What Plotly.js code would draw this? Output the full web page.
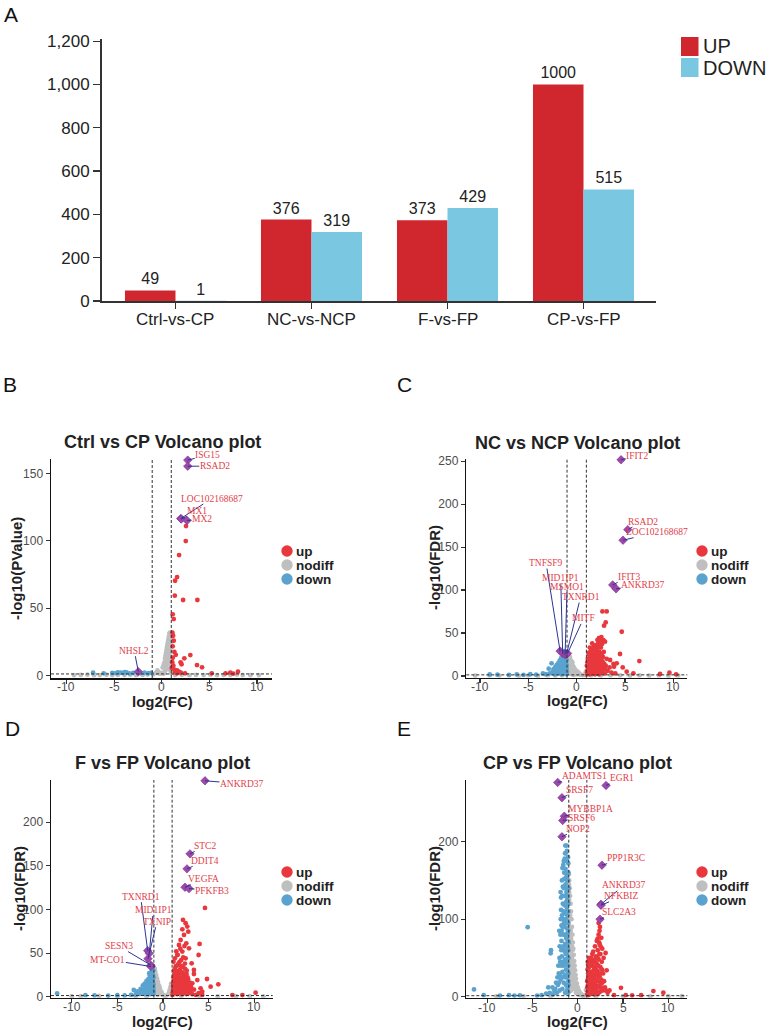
<!DOCTYPE html>
<html><head><meta charset="utf-8">
<script src="https://cdn.plot.ly/plotly-3.0.1.min.js"></script>
<style>html,body{margin:0;padding:0;background:#fff}#chart{width:767px;height:1032px}</style>
</head><body><div id="chart"></div>
<script>
// ================= DATA =================
const barCategories = ['Ctrl-vs-CP', 'NC-vs-NCP', 'F-vs-FP', 'CP-vs-FP'];
const barUp = [49, 376, 373, 1000];
const barDown = [1, 319, 429, 515];
const barSeriesNames = ['UP', 'DOWN'];
const barYTicks = [0, 200, 400, 600, 800, 1000, 1200];

const volcanoXTicks = [-10, -5, 0, 5, 10];
const volcanoGroups = ['up', 'nodiff', 'down'];
const fcThreshold = 1;        // |log2FC| cut-off
const pThreshold = 0.05;      // significance cut-off

// ---- Panel B : Ctrl vs CP ----
const B_title = 'Ctrl vs CP Volcano plot';
const B_yTitle = '-log10(PValue)';
const B_yTicks = [0, 50, 100, 150];
const B_up = [[2.55,110.9],[2.52,99.8],[1.82,89.4],[1.61,73.1],[1.40,70.4],[1.37,59.3],[2.24,56.1],[3.74,56.1],[1.15,45.5],[1.26,42],[1.12,31.9],[1.19,29.6],[1.26,25.9],[1.15,21.8],[1.33,17.6],[3.0,15.3],[1.47,15.5],[1.15,13.3],[2.37,12.9],[1.98,9.9],[2.08,8.5],[3.7,7.9],[4.23,6.2],[1.22,7.4],[1.33,4.4],[1.61,4.0],[1.05,5.8],[5.25,1.8],[7.2,2.3],[8.0,3],[6.7,1.8],[2.45,1.8],[1.6,1.8],[1.8,3],[1.1,10],[1.4,2.5],[2.0,2.2],[7.5,1.5]];
const B_nodiff = [[0.05,2],[0.1,6],[0.2,8],[0.3,10],[0.35,13],[0.4,15],[0.45,17],[0.5,19],[0.55,21],[0.6,23],[0.65,25],[0.7,27],[0.75,29],[0.8,31],[0.85,32],[0.9,30],[0.95,27],[0.92,24],[0.88,20],[0.8,16],[0.7,12],[0.6,9],[0.5,6],[0.4,4],[0.3,2],[0.2,1.5],[0.6,15],[0.7,20],[0.8,24],[0.9,14],[0.95,8],[0.97,18],[0.5,11],[0.45,7],[0.75,5],[0.85,10],[0.65,17],[0.55,13],[0.9,4],[0.98,2],[-0.45,4],[-0.3,2.5],[-0.6,2],[-0.9,1],[-0.2,1.5],
  [-9.2,0.4],[-8.5,0.6],[-7.8,0.8],[-7.1,0.4],[-6.5,0.5],[-5.8,0.7],[-5.2,0.4],[-4.6,0.6],[-3.9,0.5],[-3.3,0.8],[-2.7,0.4],[-2.0,0.6],[-1.5,0.9],[1.4,0.5],[2.1,0.7],[2.9,0.4],[3.6,0.6],[4.4,0.5],[5.1,0.8],[5.8,0.4],[6.5,0.6],[7.2,0.5],[7.9,0.9],[8.5,0.5],[9.3,0.4],[10.2,0.5]];
const B_down = [[-7.2,2.2],[-6.1,1.8],[-5.2,2.0],[-4.6,2.5],[-4.3,2.2],[-4.0,1.9],[-3.7,2.4],[-3.4,1.8],[-3.0,2.1],[-2.2,1.9],[-1.8,2.3],[-1.4,1.9],[-1.1,2.1],[-4.8,1.9],[-3.9,2.6]];
const B_genes = ['ISG15', 'RSAD2', 'LOC102168687', 'MX1', 'MX2', 'NHSL2'];
const B_geneX = [2.73, 2.73, 2.0, 2.05, 2.65, -2.46];
const B_geneY = [159.8, 155.3, 116.5, 116.1, 115.1, 3.0];

// ---- Panel C : NC vs NCP ----
const C_title = 'NC vs NCP Volcano plot';
const C_yTitle = '-log10(FDR)';
const C_yTicks = [0, 50, 100, 150, 200, 250];
const C_up = [[2.66,75.1],[3.1,75.1],[3.0,62.3],[2.83,58.5],[4.66,51.5],[6.48,17.4],[2.55,45.3],[2.34,43.7],[2.76,41.8],[2.93,39.9],[2.24,39.9],[1.9,34.1],[2.07,31],[4.48,25.6],[3.45,18.6],[4.14,14.7],[4.76,10],[3.86,10.8],[8.62,2.3],[9.59,3.9],[10.28,1.9],[5.17,5],[5.86,3.1],
  [1.1,2],[1.1,6],[1.15,10],[1.2,4],[1.25,14],[1.3,8],[1.3,18],[1.35,2],[1.4,12],[1.4,22],[1.45,5],[1.5,16],[1.5,26],[1.55,9],[1.6,3],[1.6,20],[1.65,30],[1.7,13],[1.7,24],[1.75,6],[1.8,17],[1.8,33],[1.85,10],[1.9,27],[1.9,2],[1.95,21],[2.0,14],[2.0,36],[2.05,7],[2.1,30],[2.1,18],[2.15,4],[2.2,24],[2.2,11],[2.25,38],[2.3,16],[2.3,2],[2.35,28],[2.4,8],[2.45,20],[2.5,13],[2.5,33],[2.6,5],[2.6,24],[2.7,16],[2.75,9],[2.8,28],[2.9,3],[3.0,12],[3.1,20],[3.2,6],[3.4,10],[3.6,4],[3.8,14],[4.0,3],[1.2,27],[1.35,33],[1.6,38],[2.3,44],[2.45,41],[2.6,37],[1.05,12],[1.15,20],[1.45,29],[1.75,35],[2.15,42],
  [1.08,4],[1.12,16],[1.18,8],[1.22,20],[1.28,12],[1.32,24],[1.38,6],[1.42,16],[1.48,10],[1.52,30],[1.58,14],[1.62,24],[1.68,4],[1.72,18],[1.78,28],[1.82,8],[1.88,14],[1.92,32],[1.98,10],[2.02,24],[2.08,16],[2.12,6],[2.18,28],[2.22,18],[2.28,10],[2.32,34],[2.38,22],[2.42,14],[2.48,4],[2.52,26],[2.58,18],[2.65,10],[2.72,22],[2.85,14],[2.95,8]];
const C_nodiff = [[-0.95,22],[-0.9,18],[-0.85,24],[-0.8,20],[-0.75,15],[-0.7,22],[-0.65,11],[-0.6,18],[-0.55,14],[-0.5,9],[-0.45,16],[-0.4,12],[-0.35,6],[-0.3,10],[-0.2,8],[-0.1,5],[0,6],[0.1,3],[0.2,4],[0.3,2],[0.4,1.5],[0.6,1],[0.9,2],[0.95,5],[-0.9,10],[-0.8,6],[-0.7,3],[-0.5,2],[-0.3,1],[0.8,1],[-0.95,14],[-0.6,7],[-0.25,4],
  [-0.97,18],[-0.92,12],[-0.87,20],[-0.82,14],[-0.77,19],[-0.72,9],[-0.67,16],[-0.62,5],[-0.57,10],[-0.52,13],[-0.42,8],[-0.32,4],[-0.15,3],[0.05,2],[0.85,1.5],[0.97,3],
  [-10.5,0.4],[-9,0.6],[-8,0.5],[-7,0.8],[-6,0.4],[-5,0.6],[-4,0.4],[-3,0.7],[-2.2,0.5],[-1.5,0.8],[1.5,0.5],[2.5,0.5],[3.5,0.7],[4.5,0.6],[5.5,0.4],[6.5,0.7],[7.5,0.5],[8.5,0.6],[9.5,0.4],[10.5,0.5]];
const C_down = [[-1.05,2],[-1.05,8],[-1.1,14],[-1.1,20],[-1.15,5],[-1.2,11],[-1.2,17],[-1.25,23],[-1.3,3],[-1.3,8],[-1.35,14],[-1.4,19],[-1.45,5],[-1.5,10],[-1.55,16],[-1.6,2],[-1.65,7],[-1.7,12],[-1.8,4],[-1.85,9],[-1.9,15],[-2.0,3],[-2.1,7],[-2.2,11],[-2.3,2],[-2.5,5],[-2.6,14.7],[-2.8,3],[-2.9,8.5],[-3.2,2],[-3.5,3],[-4.2,1.5],[-4.8,2],[-5.5,1.2],[-6.2,1.8],[-7,1.2],[-8.2,1.5],[-9,1.8],[-1.15,26],[-1.35,24],[-1.6,21],[-1.75,18],[-2.05,13],[-1.25,29],
  [-1.02,5],[-1.03,12],[-1.04,18],[-1.08,24],[-1.12,10],[-1.18,3],[-1.22,14],[-1.28,20],[-1.32,6],[-1.38,11],[-1.42,3],[-1.48,14],[-1.52,8],[-1.58,4],[-1.62,11],[-1.72,6],[-1.95,6],[-2.15,4],[-2.4,8]];
const C_genes = ['IFIT2', 'RSAD2', 'LOC102168687', 'IFIT3', 'ANKRD37', 'TNFSF9', 'MID1IP1', 'MSMO1', 'TXNRD1', 'MITF'];
const C_geneX = [4.59, 5.28, 4.79, 3.72, 4.07, -1.72, -1.45, -1.2, -1.05, -0.95];
const C_geneY = [251.6, 170.3, 158.0, 106.0, 101.4, 29.0, 26.3, 24.8, 25.5, 26.3];

// ---- Panel D : F vs FP ----
const D_title = 'F vs FP Volcano plot';
const D_yTitle = '-log10(FDR)';
const D_yTicks = [0, 50, 100, 150, 200];
const D_up = [[4.6,101.8],[4.01,60.5],[3.9,47.8],[3.39,30.6],[4.82,20.3],[6.06,14.2],[5.22,11.5],[10.15,4.6],[7.6,1.9],[8.7,1.9],[4.3,5.7],
  [2.19,88],[2.48,84.2],[2.66,80.4],[2.12,77.3],[2.77,74.6],[2.3,70.8],[1.93,65],[2.55,61.2],[1.75,59.3],[2.85,55.5],[2.12,51.7],[1.57,47.8],[2.48,44],[3.14,38.3],[3.39,26],[3.76,19.1],[3.21,15.3],[4.12,9.6],
  [1.05,2],[1.1,8],[1.1,15],[1.15,22],[1.2,4],[1.2,30],[1.25,11],[1.3,18],[1.35,26],[1.4,6],[1.4,35],[1.45,13],[1.5,21],[1.55,3],[1.55,29],[1.6,9],[1.65,16],[1.7,38],[1.7,24],[1.75,5],[1.8,12],[1.85,31],[1.9,19],[1.95,8],[2.0,27],[2.0,42],[2.05,3],[2.1,14],[2.15,22],[2.2,34],[2.25,9],[2.3,17],[2.35,5],[2.4,26],[2.45,12],[2.5,20],[2.55,3],[2.6,8],[2.7,15],[2.8,4],[2.9,10],[3.0,6],[3.2,3],[3.4,8],[3.6,2],[3.9,4],[4.3,2],[1.3,44],[1.6,48],[1.9,55],[2.4,38],[2.6,30],[1.15,40],[1.45,52],[2.7,22],[3.0,13],[2.35,58],
  [1.08,5],[1.12,12],[1.18,18],[1.22,25],[1.28,8],[1.32,32],[1.38,15],[1.42,22],[1.48,4],[1.52,28],[1.58,11],[1.62,36],[1.68,18],[1.72,7],[1.78,25],[1.82,40],[1.88,14],[1.92,4],[1.98,20],[2.02,35],[2.08,10],[2.12,28],[2.18,16],[2.22,45],[2.28,6],[2.32,24],[2.38,14],[2.42,32],[2.48,8],[2.52,18],[2.58,26],[2.65,12],[2.75,20],[2.85,8],[2.95,16],[3.1,10]];
const D_nodiff = [[-0.98,33],[-0.95,28],[-0.9,32],[-0.9,24],[-0.85,29],[-0.8,20],[-0.75,25],[-0.7,16],[-0.65,21],[-0.6,12],[-0.55,17],[-0.5,9],[-0.45,13],[-0.4,6],[-0.35,10],[-0.3,4],[-0.2,6],[-0.1,3],[0,2],[0.1,1.5],[0.3,1],[0.6,3],[0.7,6],[0.8,9],[0.85,12],[0.9,15],[0.95,10],[0.9,5],[0.8,3],[-0.95,15],[-0.85,8],[-0.75,4],[-0.6,2],
  [-0.97,20],[-0.93,28],[-0.88,18],[-0.82,24],[-0.78,14],[-0.72,19],[-0.68,10],[-0.62,15],[-0.58,7],[-0.52,12],[-0.48,5],[-0.42,9],[-0.32,7],[-0.25,3],[-0.15,4],[0.65,4],[0.75,8],[0.88,11],[0.92,8],[0.97,4],
  [-10,0.5],[-9,0.5],[-7,0.8],[-5,0.4],[-3,0.6],[-1.8,0.7],[2,0.5],[4,0.7],[6,0.4],[8,0.6],[9.5,0.5],[11,0.4]];
const D_down = [[-1.05,3],[-1.05,10],[-1.1,17],[-1.1,25],[-1.15,32],[-1.2,6],[-1.2,14],[-1.25,21],[-1.3,28],[-1.35,3],[-1.35,10],[-1.4,17],[-1.45,24],[-1.5,7],[-1.55,13],[-1.6,20],[-1.65,3],[-1.7,9],[-1.75,15],[-1.8,5],[-1.9,11],[-2.0,3],[-2.1,8],[-2.2,13],[-2.3,4],[-2.45,9],[-2.6,3],[-2.8,6],[-3.0,2.5],[-3.2,7.7],[-3.5,2],[-4.2,1.5],[-5,1.8],[-6,1.2],[-7.5,1.5],[-8.5,1.8],[-11.6,3.8],[-1.15,30],[-1.5,27],[-1.3,34],[-1.8,18],[-2.0,15],[-1.1,35],
  [-1.02,6],[-1.03,14],[-1.04,22],[-1.06,30],[-1.12,8],[-1.14,20],[-1.18,26],[-1.22,10],[-1.26,16],[-1.32,22],[-1.38,6],[-1.42,12],[-1.48,18],[-1.52,3],[-1.58,9],[-1.62,15],[-1.68,6],[-1.72,12],[-1.85,7],[-1.95,14],[-2.15,5],[-2.35,8],[-2.6,5],[-2.9,4]];
const D_genes = ['ANKRD37', 'STC2', 'DDIT4', 'VEGFA', 'PFKFB3', 'TXNRD1', 'MID1IP1', 'TXNIP', 'SESN3', 'MT-CO1'];
const D_geneX = [4.6, 2.96, 2.63, 2.41, 2.85, -1.68, -1.5, -1.64, -1.33, -1.33];
const D_geneY = [247.6, 163.8, 146.6, 125.5, 124.0, 52.8, 49.7, 43.6, 36.2, 34.6];

// ---- Panel E : CP vs FP ----
const E_title = 'CP vs FP Volcano plot';
const E_yTitle = '-log10(FDR)';
const E_yTicks = [0, 100, 200];
const E_up = [[1.05,3],[1.05,12],[1.1,22],[1.1,7],[1.15,30],[1.2,16],[1.2,2],[1.25,38],[1.3,9],[1.3,25],[1.35,45],[1.4,4],[1.4,18],[1.45,32],[1.5,12],[1.5,50],[1.55,26],[1.6,6],[1.6,40],[1.65,19],[1.7,58],[1.7,33],[1.75,10],[1.8,47],[1.8,24],[1.85,3],[1.9,38],[1.9,65],[1.95,15],[2.0,52],[2.0,28],[2.05,8],[2.1,72],[2.1,42],[2.15,20],[2.2,60],[2.2,33],[2.25,4],[2.3,80],[2.3,48],[2.35,13],[2.4,68],[2.4,26],[2.45,90],[2.5,55],[2.5,38],[2.55,100],[2.55,9],[2.6,76],[2.65,45],[2.7,62],[2.7,18],[2.8,30],[2.85,50],[3.0,12],[3.07,56.4],[3.19,34],[3.3,5],[3.5,8],[4.0,2],[4.77,11.5],[5.3,2],[6,1.8],[7,2],[8.35,7.3],[9.45,5.1],[2.3,95],[2.4,85],[1.15,42],[1.6,55],[2.0,35],[2.6,22],[1.3,15],[1.85,12],
  [1.05,20],[1.08,35],[1.1,45],[1.12,15],[1.18,25],[1.22,50],[1.28,5],[1.32,30],[1.38,22],[1.42,40],[1.48,8],[1.52,20],[1.58,32],[1.62,14],[1.68,45],[1.72,4],[1.78,28],[1.82,36],[1.88,18],[1.92,8],[1.98,44],[2.02,22],[2.08,12],[2.12,30],[2.18,50],[2.22,14],[2.28,40],[2.32,26],[2.38,55],[2.42,6],[2.48,18],[2.52,65],[2.58,30],[2.62,12],[2.68,35],[2.75,8],[2.9,20],[3.1,8],[2.2,75],[2.35,70]];
const E_nodiff = [[-0.98,158],[-0.95,150],[-0.9,140],[-0.85,130],[-0.8,120],[-0.75,110],[-0.7,100],[-0.65,90],[-0.6,80],[-0.55,70],[-0.5,62],[-0.45,54],[-0.4,46],[-0.35,40],[-0.3,34],[-0.25,28],[-0.2,23],[-0.1,17],[0,12],[0.1,8],[0.2,6],[0.3,4],[0.5,2],[0.7,1.5],[0.9,8.5],[-0.95,120],[-0.9,100],[-0.85,80],[-0.8,60],[-0.75,40],[-0.7,20],[-0.6,10],[-0.9,50],[-0.95,30],[-0.5,30],[-0.4,20],[-0.3,10],[-0.2,5],[-0.98,90],[-0.97,70],[-0.65,50],[-0.55,35],[-0.45,15],[-0.85,105],[-0.75,75],[-0.65,65],[-0.95,135],[-0.6,45],
  [-0.98,145],[-0.96,125],[-0.93,110],[-0.9,90],[-0.88,75],[-0.85,60],[-0.82,45],[-0.8,100],[-0.78,85],[-0.72,70],[-0.7,55],[-0.68,35],[-0.62,25],[-0.58,60],[-0.52,45],[-0.48,25],[-0.42,35],[-0.38,12],[-0.32,22],[-0.28,16],[-0.22,12],[-0.15,9],[-0.05,8],[0.05,4],[0.15,3],[0.25,2],[0.4,3],[0.6,1],[0.8,2],[-0.97,20],[-0.97,50],[-0.92,65],[-0.88,35],[-0.83,15],[-0.78,25],[-0.73,8],[-0.67,40],[-0.55,20],[-0.45,40],[-0.35,28],
  [-9,0.5],[-6,0.8],[-3,0.5],[2,0.4],[5,0.6],[8,0.5],[10,0.6],[11.5,0.8]];
const E_down = [[-1.05,5],[-1.05,20],[-1.05,40],[-1.05,60],[-1.05,85],[-1.05,110],[-1.1,130],[-1.1,150],[-1.1,12],[-1.1,30],[-1.1,50],[-1.1,72],[-1.1,95],[-1.15,140],[-1.15,160],[-1.2,8],[-1.2,25],[-1.2,45],[-1.2,65],[-1.2,88],[-1.2,115],[-1.25,135],[-1.25,155],[-1.25,175],[-1.3,15],[-1.3,35],[-1.3,55],[-1.3,78],[-1.3,100],[-1.3,122],[-1.35,145],[-1.35,165],[-1.38,195],[-1.4,185],[-1.4,5],[-1.4,28],[-1.4,48],[-1.4,68],[-1.45,90],[-1.45,108],[-1.5,130],[-1.5,152],[-1.55,18],[-1.55,40],[-1.55,60],[-1.6,80],[-1.6,100],[-1.65,120],[-1.65,142],[-1.7,166],[-1.7,10],[-1.7,32],[-1.75,52],[-1.8,72],[-1.8,92],[-1.85,112],[-1.9,135],[-1.9,22],[-1.95,45],[-2.0,65],[-2.0,8],[-2.1,30],[-2.2,15],[-2.3,5],[-2.5,10],[-2.7,3],[-2.96,60],[-3.0,56],[-3.26,12],[-3.5,4],[-4,2],[-4.5,1.5],[-5.54,89.7],[-6.4,1.8],[-7,1.5],[-7.6,2],[-8.6,1.5],[-10.4,2],[-11.47,9.4],[-1.6,170],[-1.45,178],[-1.2,188],[-1.05,172],[-1.75,150],[-1.85,128],[-2.05,85],
  [-1.02,15],[-1.03,30],[-1.04,50],[-1.02,70],[-1.03,95],[-1.04,120],[-1.02,140],[-1.03,160],[-1.08,180],[-1.12,62],[-1.14,82],[-1.16,105],[-1.18,125],[-1.22,35],[-1.24,55],[-1.26,75],[-1.28,95],[-1.32,110],[-1.34,130],[-1.36,25],[-1.38,42],[-1.42,58],[-1.44,80],[-1.48,118],[-1.52,140],[-1.54,95],[-1.58,110],[-1.62,65],[-1.64,45],[-1.66,25],[-1.68,90],[-1.72,130],[-1.74,105],[-1.78,85],[-1.82,60],[-1.84,40],[-1.88,100],[-1.92,80],[-1.96,28],[-2.02,50],[-2.08,18],[-2.15,40],[-2.25,25],[-2.4,18],[-2.6,8],[-2.8,12],[-3.1,5],[-1.5,160],[-1.55,175],[-1.3,160],[-1.2,150],[-1.15,120],[-1.35,185],[-1.25,195]];
const E_genes = ['ADAMTS1', 'EGR1', 'SRSF7', 'MYBBP1A', 'SRSF6', 'NOP2', 'PPP1R3C', 'ANKRD37', 'NFKBIZ', 'SLC2A3'];
const E_geneX = [-2.22, 3.12, -1.75, -1.49, -1.67, -1.75, 2.67, 2.56, 2.56, 2.45];
const E_geneY = [276.5, 272.6, 256.8, 232.9, 227.4, 206.4, 169.7, 119.2, 117.9, 100.0];

// ================= LAYOUT / STYLE =================
const W = 767, H = 1032;
const FONT = 'Liberation Sans, Arial, Helvetica, sans-serif';
const SERIF = 'Liberation Serif, Times New Roman, serif';
const COL = {barUp: '#d0262e', barDown: '#79c7e1', up: '#e8383e', nodiff: '#bfbfbf', down: '#5aa3cf',
             gene: '#9e47ad', seg: '#2a3593', geneText: '#e2404a', text: '#222222', tick: '#4d4d4d'};
const px = X => X / W;
const py = Y => 1 - Y / H;

// panel frames in pixels (tl = y of the x tick-label centres)
const frames = {
  A: {l: 101.5, r: 656, t: 39, b: 301, tl: 319, xr: [-0.544, 3.533], yr: [0, 1210]},
  B: {l: 51, r: 272, t: 458.5, b: 678, tl: 686.5, xr: [-11.62, 11.57], yr: [-1.7, 161]},
  C: {l: 466.3, r: 687.3, t: 459, b: 677.7, tl: 686.5, xr: [-11.42, 11.44], yr: [-2, 252.5]},
  D: {l: 51, r: 272.7, t: 780, b: 997.7, tl: 1007, xr: [-12.27, 12.02], yr: [-1.15, 248.5]},
  E: {l: 466.3, r: 687.3, t: 780, b: 997.7, tl: 1007.5, xr: [-12.32, 12.1], yr: [-1.3, 279.6]}
};
// gene label offsets (pixels from point to label centre)
const labelOffsets = {
  B: [[20,-5],[27,0],[31,-20],[16,-8],[15,-1],[-4,-21]],
  C: [[16,-4],[15,-8],[34,-8],[16,-8],[27,-4],[-14,-88],[-2,-75],[2,-68],[14,-57],[16,-35]],
  D: [[37,3],[15,-8],[18,-8],[19,-8],[23,2],[-7,-54],[4,-43],[9,-37],[-32,-19],[-43,-7]],
  E: [[27,-6],[16,-7],[18,-8],[26,-7],[19,-2],[16,-8],[24,-7],[23,-19],[21,-9],[19,-7]]
};
const titlePos = {
  B: {title: [162, 442], xt: [162, 701], yt: [16, 569]},
  C: {title: [577, 442.5], xt: [577, 700.5], yt: [434, 568]},
  D: {title: [162, 763], xt: [162, 1021.5], yt: [19, 889]},
  E: {title: [577, 762.5], xt: [577, 1021], yt: [434, 889]}
};
const legendPos = {B: [287, 551], C: [702, 551], D: [287, 872], E: [702, 872]};
const panelLetters = [['A', 11, 14], ['B', 10, 384], ['C', 404, 384], ['D', 12, 728], ['E', 404, 728]];

const traces = [];
const layout = {
  width: W, height: H, margin: {l: 0, r: 0, t: 0, b: 0},
  paper_bgcolor: '#ffffff', plot_bgcolor: 'rgba(0,0,0,0)',
  showlegend: false, barmode: 'group', bargap: 0.257, bargroupgap: 0,
  font: {family: FONT, color: COL.text},
  shapes: [], annotations: []
};

// ---------- Panel A : bar chart ----------
const fA = frames.A;
traces.push({type: 'bar', name: barSeriesNames[0], x: barCategories, y: barUp, xaxis: 'x', yaxis: 'y',
  marker: {color: COL.barUp}, text: barUp.map(String), textposition: 'outside', cliponaxis: false,
  textfont: {size: 16, color: COL.text, family: FONT}, hoverinfo: 'x+y'});
traces.push({type: 'bar', name: barSeriesNames[1], x: barCategories, y: barDown, xaxis: 'x', yaxis: 'y',
  marker: {color: COL.barDown}, text: barDown.map(String), textposition: 'outside', cliponaxis: false,
  textfont: {size: 16, color: COL.text, family: FONT}, hoverinfo: 'x+y'});
layout.xaxis = {domain: [px(fA.l), px(fA.r)], range: fA.xr, type: 'category', anchor: 'y',
  showline: true, linecolor: '#333', linewidth: 1.5, ticks: 'outside', ticklen: 6, tickcolor: '#333', tickwidth: 1.3,
  showticklabels: false, showgrid: false, zeroline: false, fixedrange: true};
layout.yaxis = {domain: [py(fA.b), py(fA.t)], range: fA.yr, anchor: 'x',
  tickmode: 'array', tickvals: barYTicks, ticktext: barYTicks.map(v => v.toLocaleString('en-US')),
  showline: true, linecolor: '#333', linewidth: 1.5, ticks: 'outside', ticklen: 7, tickcolor: '#333', tickwidth: 1.3,
  tickfont: {size: 17, color: COL.text}, showgrid: false, zeroline: false, fixedrange: true};
// category labels of A (placed on the category axis)
barCategories.forEach(c => layout.annotations.push({xref: 'x', yref: 'paper', x: c, y: py(fA.tl),
  xanchor: 'center', yanchor: 'middle', text: c, showarrow: false, font: {size: 17, color: COL.text, family: FONT}}));
// legend for A
[[COL.barUp, 37, 56], [COL.barDown, 58, 77]].forEach((s, i) => {
  layout.shapes.push({type: 'rect', xref: 'paper', yref: 'paper', x0: px(681), x1: px(698.5), y0: py(s[2]), y1: py(s[1]),
    fillcolor: s[0], line: {width: 0}});
  layout.annotations.push({xref: 'paper', yref: 'paper', x: px(701), y: py((s[1] + s[2]) / 2), xanchor: 'left', yanchor: 'middle',
    text: barSeriesNames[i], showarrow: false, font: {size: 20, color: COL.text, family: FONT}});
});

// ---------- Volcano panels ----------
const volcanoPanels = [
  {key: 'B', k: 2, title: B_title, yTitle: B_yTitle, yTicks: B_yTicks, up: B_up, nodiff: B_nodiff, down: B_down, genes: B_genes, gx: B_geneX, gy: B_geneY},
  {key: 'C', k: 3, title: C_title, yTitle: C_yTitle, yTicks: C_yTicks, up: C_up, nodiff: C_nodiff, down: C_down, genes: C_genes, gx: C_geneX, gy: C_geneY},
  {key: 'D', k: 4, title: D_title, yTitle: D_yTitle, yTicks: D_yTicks, up: D_up, nodiff: D_nodiff, down: D_down, genes: D_genes, gx: D_geneX, gy: D_geneY},
  {key: 'E', k: 5, title: E_title, yTitle: E_yTitle, yTicks: E_yTicks, up: E_up, nodiff: E_nodiff, down: E_down, genes: E_genes, gx: E_geneX, gy: E_geneY}
];

volcanoPanels.forEach(p => {
  const f = frames[p.key], xa = 'x' + p.k, ya = 'y' + p.k;
  const groupData = {nodiff: p.nodiff, down: p.down, up: p.up};
  ['nodiff', 'down', 'up'].forEach(g => {
    traces.push({type: 'scatter', mode: 'markers', name: g, xaxis: xa, yaxis: ya,
      x: groupData[g].map(d => d[0]), y: groupData[g].map(d => d[1]),
      marker: {color: COL[g], size: 4.8, line: {width: 0}}, hoverinfo: 'x+y'});
  });
  traces.push({type: 'scatter', mode: 'markers', name: 'labelled', xaxis: xa, yaxis: ya, x: p.gx, y: p.gy,
    text: p.genes, cliponaxis: false, marker: {color: COL.gene, size: 6.5, symbol: 'diamond', line: {width: 0.6, color: '#7a2f8a'}}, hoverinfo: 'text'});

  layout['xaxis' + p.k] = {domain: [px(f.l), px(f.r)], range: f.xr, anchor: ya,
    tickmode: 'array', tickvals: volcanoXTicks,
    showline: true, linecolor: '#111', linewidth: 1.5, ticks: 'outside', ticklen: 4, tickcolor: '#333', tickwidth: 1.1,
    showticklabels: false, showgrid: false, zeroline: false, fixedrange: true};
  layout['yaxis' + p.k] = {domain: [py(f.b), py(f.t)], range: f.yr, anchor: xa,
    tickmode: 'array', tickvals: p.yTicks, ticktext: p.yTicks.map(v => String(v)),
    showline: true, linecolor: '#111', linewidth: 1.5, ticks: 'outside', ticklen: 4, tickcolor: '#333', tickwidth: 1.1,
    tickfont: {size: 12, color: COL.tick}, showgrid: false, zeroline: false, fixedrange: true};
  // x tick labels, placed at the axis' own tick values
  volcanoXTicks.forEach(v => layout.annotations.push({xref: xa, yref: 'paper', x: v, y: py(f.tl),
    xanchor: 'center', yanchor: 'middle', text: String(v), showarrow: false, font: {size: 12, color: COL.tick, family: FONT}}));

  // threshold lines
  [-fcThreshold, fcThreshold].forEach(v => layout.shapes.push({type: 'line', xref: xa, yref: ya + ' domain',
    x0: v, x1: v, y0: 0, y1: 1, line: {color: '#333', width: 1, dash: '3px,2px'}}));
  layout.shapes.push({type: 'line', xref: xa + ' domain', yref: ya, x0: 0, x1: 1,
    y0: -Math.log10(pThreshold), y1: -Math.log10(pThreshold), line: {color: '#333', width: 1, dash: '3px,2px'}});

  // gene labels
  p.genes.forEach((gName, i) => {
    const o = labelOffsets[p.key][i];
    layout.annotations.push({xref: xa, yref: ya, x: p.gx[i], y: p.gy[i], text: gName, showarrow: true,
      ax: o[0], ay: o[1], arrowhead: 0, arrowwidth: 1, arrowcolor: COL.seg, standoff: 0, borderpad: 0,
      font: {family: SERIF, size: 9.5, color: COL.geneText}});
  });

  // titles
  const tp = titlePos[p.key];
  layout.annotations.push({xref: 'paper', yref: 'paper', x: px(tp.title[0]), y: py(tp.title[1]), xanchor: 'center', yanchor: 'middle',
    text: p.title, showarrow: false, font: {size: 18, weight: 'bold', color: COL.text, family: FONT}});
  layout.annotations.push({xref: 'paper', yref: 'paper', x: px(tp.xt[0]), y: py(tp.xt[1]), xanchor: 'center', yanchor: 'middle',
    text: 'log2(FC)', showarrow: false, font: {size: 15, weight: 'bold', color: COL.text, family: FONT}});
  layout.annotations.push({xref: 'paper', yref: 'paper', x: px(tp.yt[0]), y: py(tp.yt[1]), xanchor: 'center', yanchor: 'middle',
    text: p.yTitle, textangle: -90, showarrow: false, font: {size: 15, weight: 'bold', color: COL.text, family: FONT}});

  // legend
  const lp = legendPos[p.key];
  volcanoGroups.forEach((g, i) => {
    const cy = lp[1] + i * 14, cx = lp[0], r = 5.7;
    layout.shapes.push({type: 'circle', xref: 'paper', yref: 'paper', x0: px(cx - r), x1: px(cx + r), y0: py(cy + r), y1: py(cy - r),
      fillcolor: COL[g], line: {width: 0}});
    layout.annotations.push({xref: 'paper', yref: 'paper', x: px(cx + 7), y: py(cy), xanchor: 'left', yanchor: 'middle',
      text: g, showarrow: false, font: {size: 13.5, weight: 'bold', color: COL.text, family: FONT}});
  });
});

// panel letters
panelLetters.forEach(l => layout.annotations.push({xref: 'paper', yref: 'paper', x: px(l[1]), y: py(l[2]),
  xanchor: 'center', yanchor: 'middle', text: l[0], showarrow: false, font: {size: 21, color: '#111', family: FONT}}));

Plotly.newPlot('chart', traces, layout, {staticPlot: true, displayModeBar: false});
</script></body></html>
